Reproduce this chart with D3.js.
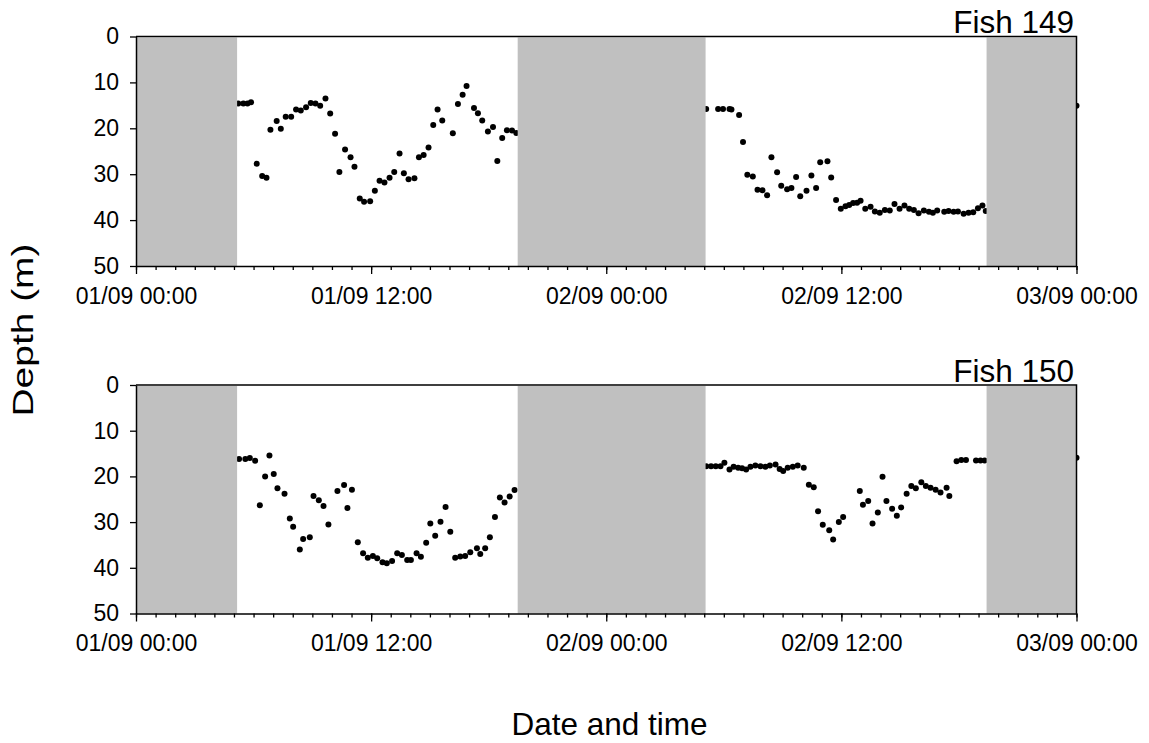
<!DOCTYPE html>
<html>
<head>
<meta charset="utf-8">
<script src="https://cdn.jsdelivr.net/npm/d3@7"></script>
<style>
  html, body { margin: 0; padding: 0; background: #fff; }
  svg { display: block; font-family: "Liberation Sans", Arial, sans-serif; }
</style>
</head>
<body>
<svg id="chart" width="1149" height="743"></svg>
<script>
// Hours since 01/09 00:00 and depth (m) for each tagged fish
const hours149 = [5.22, 5.48, 5.69, 5.87, 6.16, 6.44, 6.66, 6.86, 7.18, 7.39, 7.64, 7.92, 8.17, 8.41, 8.68, 8.92, 9.16, 9.40, 9.67, 9.91,
  10.16, 10.38, 10.67, 10.95, 11.15, 11.42, 11.64, 11.95, 12.19, 12.43, 12.68, 12.94, 13.18, 13.45, 13.67, 13.91, 14.21, 14.44, 14.68, 14.93,
  15.17, 15.39, 15.63, 16.17, 16.43, 16.67, 16.87, 17.25, 17.45, 17.67, 17.96, 18.22, 18.44, 18.69, 18.93, 19.19, 19.41,
  29.10, 29.71, 29.96, 30.29, 30.39, 30.78, 30.98, 31.20, 31.48, 31.72, 31.97, 32.21, 32.43, 32.72, 32.93, 33.23, 33.45, 33.69, 33.90,
  34.22, 34.47, 34.71, 34.92, 35.29, 35.48, 35.73, 35.97, 36.21, 36.40, 36.60, 36.80, 36.98, 37.22, 37.49, 37.71, 37.96, 38.22, 38.47,
  38.71, 38.97, 39.22, 39.46, 39.70, 39.94, 40.21, 40.47, 40.67, 40.89, 41.25, 41.47, 41.73, 41.95, 42.24, 42.49, 42.73, 42.97, 43.20, 43.37,
  48.00];
const depth149 = [14.6, 14.6, 14.6, 14.3, 27.7, 30.4, 30.8, 20.3, 18.4, 20.1, 17.5, 17.5, 15.9, 16.1, 15.4, 14.5, 14.6, 15.1, 13.5, 16.8,
  21.2, 29.5, 24.6, 26.3, 28.4, 35.3, 36.0, 35.9, 33.6, 31.4, 31.8, 30.8, 29.5, 25.5, 29.8, 31.1, 30.9, 26.3, 25.8, 24.2,
  19.3, 15.9, 18.3, 21.1, 14.7, 12.7, 10.8, 15.6, 16.7, 18.3, 20.7, 19.7, 27.1, 22.1, 20.4, 20.5, 21.0,
  15.8, 15.8, 15.8, 15.8, 15.9, 17.1, 23.0, 30.1, 30.5, 33.4, 33.5, 34.6, 26.3, 29.6, 32.5, 33.3, 33.0, 30.6, 34.8,
  33.6, 30.3, 33.0, 27.4, 27.2, 30.7, 35.6, 37.5, 37.0, 36.7, 36.3, 36.2, 35.8, 37.5, 37.1, 38.1, 38.4, 37.8, 37.9,
  36.5, 37.5, 36.8, 37.5, 37.8, 38.5, 37.9, 38.2, 38.4, 37.9, 38.2, 38.0, 38.2, 38.1, 38.6, 38.4, 38.3, 37.4, 36.8, 38.0,
  15.1];

const hours150 = [5.26, 5.58, 5.81, 6.08, 6.32, 6.59, 6.81, 7.03, 7.22, 7.58, 7.85, 8.02, 8.36, 8.53, 8.87, 9.06, 9.33, 9.57, 9.82,
  10.28, 10.62, 10.79, 11.02, 11.32, 11.59, 11.83, 12.09, 12.31, 12.58, 12.80, 13.07, 13.33, 13.57, 13.84, 14.03, 14.32, 14.54, 14.81,
  15.02, 15.27, 15.54, 15.80, 16.04, 16.29, 16.55, 16.80, 17.06, 17.40, 17.57, 17.82, 18.06, 18.32, 18.57, 18.81, 19.07, 19.32,
  29.10, 29.35, 29.59, 29.83, 30.03, 30.29, 30.50, 30.73, 30.93, 31.14, 31.36, 31.61, 31.87, 32.12, 32.35, 32.64, 32.85, 33.03,
  33.26, 33.52, 33.77, 34.08, 34.34, 34.59, 34.81, 35.05, 35.38, 35.58, 35.87, 36.09, 36.94, 37.10, 37.37, 37.59, 37.86, 38.10,
  38.30, 38.59, 38.83, 39.05, 39.33, 39.57, 39.80, 40.08, 40.31, 40.55, 40.81, 41.06, 41.37, 41.51, 41.88, 42.12, 42.36, 42.87,
  43.10, 43.31, 48.00];
const depth150 = [16.2, 16.2, 16.0, 16.6, 26.3, 20.0, 15.4, 19.5, 22.6, 23.8, 29.2, 31.0, 36.0, 33.7, 33.3, 24.3, 25.2, 26.5, 30.5,
  23.2, 21.9, 26.9, 22.9, 34.4, 36.8, 37.8, 37.4, 37.9, 38.8, 39.0, 38.5, 36.8, 37.2, 38.3, 38.3, 36.8, 37.6, 34.5,
  30.3, 33.0, 29.9, 26.7, 32.1, 37.8, 37.5, 37.4, 36.6, 35.7, 37.0, 35.7, 33.3, 28.9, 24.6, 25.7, 24.4, 23.0,
  17.8, 17.8, 17.8, 17.8, 17.0, 18.5, 17.9, 18.1, 18.2, 18.5, 17.9, 17.6, 17.8, 17.9, 17.6, 17.4, 18.4, 18.8,
  18.1, 17.9, 17.6, 18.1, 21.8, 22.4, 27.6, 30.6, 31.8, 33.8, 30.0, 28.9, 23.2, 26.2, 25.4, 30.3, 27.9, 20.1,
  25.4, 27.1, 28.6, 26.8, 23.8, 22.1, 22.6, 21.3, 22.1, 22.5, 22.9, 23.5, 22.5, 24.3, 16.7, 16.4, 16.4, 16.5,
  16.5, 16.5, 15.9];

// Night periods (hours since 01/09 00:00)
const nightStart = [0, 19.48, 43.41];
const nightEnd = [5.16, 29.07, 48];

// Axis ticks
const xMajorHours = [0, 12, 24, 36, 48];
const xTickLabels = ["01/09 00:00", "01/09 12:00", "02/09 00:00", "02/09 12:00", "03/09 00:00"];
const depthTicks = [0, 10, 20, 30, 40, 50];
const fishNames = ["Fish 149", "Fish 150"];

const svg = d3.select("#chart");
const left = 136, right = 1076.5;
const x = d3.scaleLinear().domain([0, 48]).range([left, right]);

const panels = [
  { name: fishNames[0], hours: hours149, depth: depth149, top: 36.5, bottom: 266 },
  { name: fishNames[1], hours: hours150, depth: depth150, top: 385, bottom: 613.5 }
];

const nights = nightStart.map((s, i) => ({ s, e: nightEnd[i] }));
const font = "\"Liberation Sans\", Arial, sans-serif";

panels.forEach(p => {
  const y = d3.scaleLinear().domain([0, 50]).range([p.top, p.bottom]);
  const g = svg.append("g");
  const pts = p.hours.map((h, i) => ({ h, d: p.depth[i] }));

  // depth records
  g.append("g").selectAll("circle").data(pts).join("circle")
    .attr("cx", d => x(d.h)).attr("cy", d => y(d.d)).attr("r", 3)
    .attr("fill", "#000");

  // night shading
  g.append("g").selectAll("rect").data(nights).join("rect")
    .attr("x", d => x(d.s)).attr("width", d => x(d.e) - x(d.s))
    .attr("y", p.top + 1).attr("height", p.bottom - p.top - 1)
    .attr("fill", "#c0c0c0");

  // frame: top and right edges
  g.append("path")
    .attr("d", `M${left},${p.top}H${right}V${p.bottom}`)
    .attr("fill", "none").attr("stroke", "#000").attr("stroke-width", 1.5);

  // y axis
  const yAxis = d3.axisLeft(y).tickValues(depthTicks).tickSize(6).tickPadding(11).tickSizeOuter(0);
  const ya = g.append("g").attr("transform", `translate(${left},0)`).call(yAxis);
  ya.select(".domain").attr("stroke-width", 1.5);
  ya.selectAll(".tick line").attr("stroke-width", 1.3);
  ya.selectAll("text").attr("font-size", 23).attr("font-family", font).attr("fill", "#000");

  // x axis: hourly minor ticks, 12-hour major ticks with labels
  const xMinor = d3.axisBottom(x).tickValues(d3.range(0, 49, 1)).tickSize(4).tickFormat("").tickSizeOuter(0);
  const xm = g.append("g").attr("transform", `translate(0,${p.bottom})`).call(xMinor);
  xm.select(".domain").attr("stroke-width", 1.5);
  xm.selectAll(".tick line").attr("stroke-width", 1.3);

  const xMajor = d3.axisBottom(x).tickValues(xMajorHours).tickSize(8).tickPadding(25)
    .tickFormat((d, i) => xTickLabels[i]);
  const xM = g.append("g").attr("transform", `translate(0,${p.bottom})`).call(xMajor);
  xM.select(".domain").remove();
  xM.selectAll(".tick line").attr("stroke-width", 1.3);
  xM.selectAll("text").attr("font-size", 23).attr("font-family", font).attr("fill", "#000")
    .attr("dy", "0.2em");

  // fish label
  g.append("text").attr("x", 1074).attr("y", p.top - 3.5)
    .attr("text-anchor", "end").attr("font-size", 31.5).attr("fill", "#000")
    .text(p.name);
});

// axis titles
svg.append("text")
  .attr("transform", "translate(33,330) rotate(-90)")
  .attr("text-anchor", "middle").attr("font-size", 30)
  .attr("textLength", 173).attr("lengthAdjust", "spacingAndGlyphs")
  .text("Depth (m)");

svg.append("text")
  .attr("x", 609.5).attr("y", 735)
  .attr("text-anchor", "middle").attr("font-size", 31.5)
  .text("Date and time");
</script>
</body>
</html>
